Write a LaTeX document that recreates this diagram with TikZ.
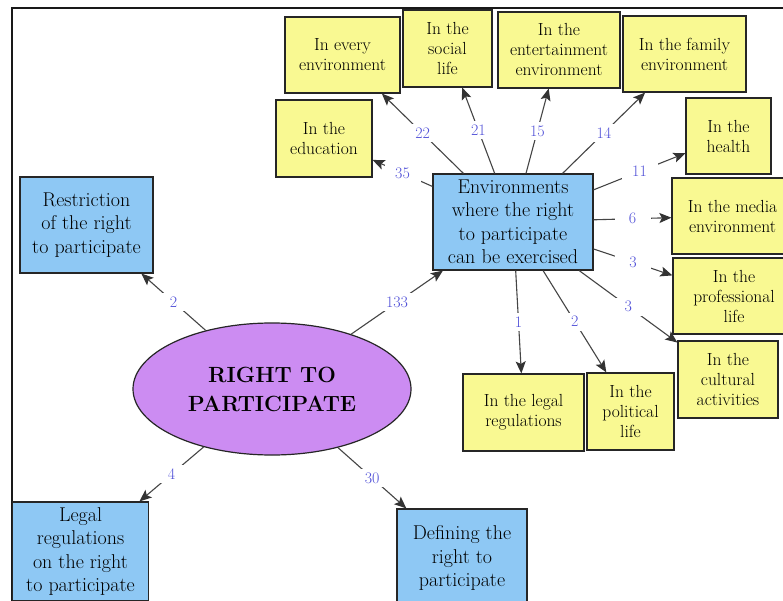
\documentclass[tikz,border=0pt]{standalone}
\usetikzlibrary{shapes.geometric,arrows.meta}
\definecolor{yfill}{HTML}{F9F992}
\definecolor{bfill}{HTML}{8EC8F4}
\definecolor{pfill}{HTML}{CC8CF2}
\definecolor{lblc}{HTML}{5050D8}
\definecolor{edgec}{HTML}{454545}
\begin{document}
\begin{tikzpicture}[x=1pt,y=-1pt,
  ybox/.style={draw=black!85, line width=1.2pt, fill=yfill, align=center, inner sep=0pt,
    font=\fontsize{17.5}{20}\selectfont},
  bbox/.style={draw=black!85, line width=1.2pt, fill=bfill, align=center, inner sep=0pt,
    font=\fontsize{20}{23.5}\selectfont},
  core/.style={ellipse, draw=black!85, line width=1.2pt, fill=pfill, align=center, inner sep=0pt,
    font=\fontsize{22}{29}\selectfont\bfseries},
  arr/.style={draw=edgec, line width=1.1pt, -{Stealth[length=12pt,width=10pt,inset=2.5pt,color=black!80]}},
  lbl/.style={fill=white, text=lblc, inner sep=0pt, minimum width=36pt, minimum height=18pt,
    font=\fontsize{16}{18}\selectfont}
]
\useasboundingbox (0,0) rectangle (783,601);
\clip (0,0) rectangle (783,601);
\fill[white] (0,0) rectangle (783,601);

% frame
\coordinate (fbl) at (12,601);
\coordinate (ftl) at (12,8);
\coordinate (ftr) at (783,8);
\draw[line width=2pt, black!90] (fbl) -- (ftl) -- (ftr);

% nodes
\node[ybox, minimum width=115pt, minimum height=76pt] (every) at (342.5,55) {In every\\environment};
\node[ybox, minimum width=89pt, minimum height=77pt] (social) at (447.5,48.5) {In the\\social\\life};
\node[ybox, minimum width=122pt, minimum height=76pt] (enter) at (559,50) {In the\\entertainment\\environment};
\node[ybox, minimum width=123pt, minimum height=76pt] (family) at (684.5,54) {In the family\\environment};
\node[ybox, minimum width=85pt, minimum height=76pt] (health) at (728.5,136) {In the\\health};
\node[ybox, minimum width=96pt, minimum height=77pt] (educ) at (324,138.5) {In the\\education};
\node[bbox, minimum width=160pt, minimum height=96pt] (env) at (513,222) {Environments\\where the right\\to participate\\can be exercised};
\node[ybox, minimum width=121pt, minimum height=76pt] (media) at (732.5,216) {In the media\\environment};
\node[ybox, minimum width=122pt, minimum height=76pt] (prof) at (734,296) {In the\\professional\\life};
\node[ybox, minimum width=100pt, minimum height=77pt] (cult) at (728,379.5) {In the\\cultural\\activities};
\node[ybox, minimum width=121pt, minimum height=77pt] (legal) at (523.5,412.5) {In the legal\\regulations};
\node[ybox, minimum width=87pt, minimum height=77pt] (polit) at (630.5,411.5) {In the\\political\\life};
\node[bbox, minimum width=133pt, minimum height=96pt] (restr) at (86.5,225) {Restriction\\of the right\\to participate};
\node[core, minimum width=278pt, minimum height=132pt] (right) at (272,389) {RIGHT TO\\PARTICIPATE};
\node[bbox, minimum width=136pt, minimum height=99pt] (lreg) at (80.5,551.5) {Legal\\regulations\\on the right\\to participate};
\node[bbox, minimum width=130pt, minimum height=98pt] (defin) at (462,558) {Defining the\\right to\\participate};

% connectors
\draw[arr] (env) -- node[lbl]{22} (every);
\draw[arr] (env) -- node[lbl]{21} (social);
\draw[arr] (env) -- node[lbl]{15} (enter);
\draw[arr] (env) -- node[lbl]{14} (family);
\draw[arr] (env) -- node[lbl]{35} (educ);
\draw[arr] (env) -- node[lbl]{11} (health);
\draw[arr] (env) -- node[lbl]{6} (media);
\draw[arr] (env) -- node[lbl]{3} (prof);
\draw[arr] (env) -- node[lbl]{3} (cult);
\draw[arr] (env) -- node[lbl]{1} (legal);
\draw[arr] (env) -- node[lbl]{2} (polit);
\draw[arr] (right) -- node[lbl]{2} (restr);
\draw[arr] (right) -- node[lbl]{133} (env);
\draw[arr] (right) -- node[lbl]{4} (lreg);
\draw[arr] (right) -- node[lbl]{30} (defin);
\end{tikzpicture}
\end{document}
